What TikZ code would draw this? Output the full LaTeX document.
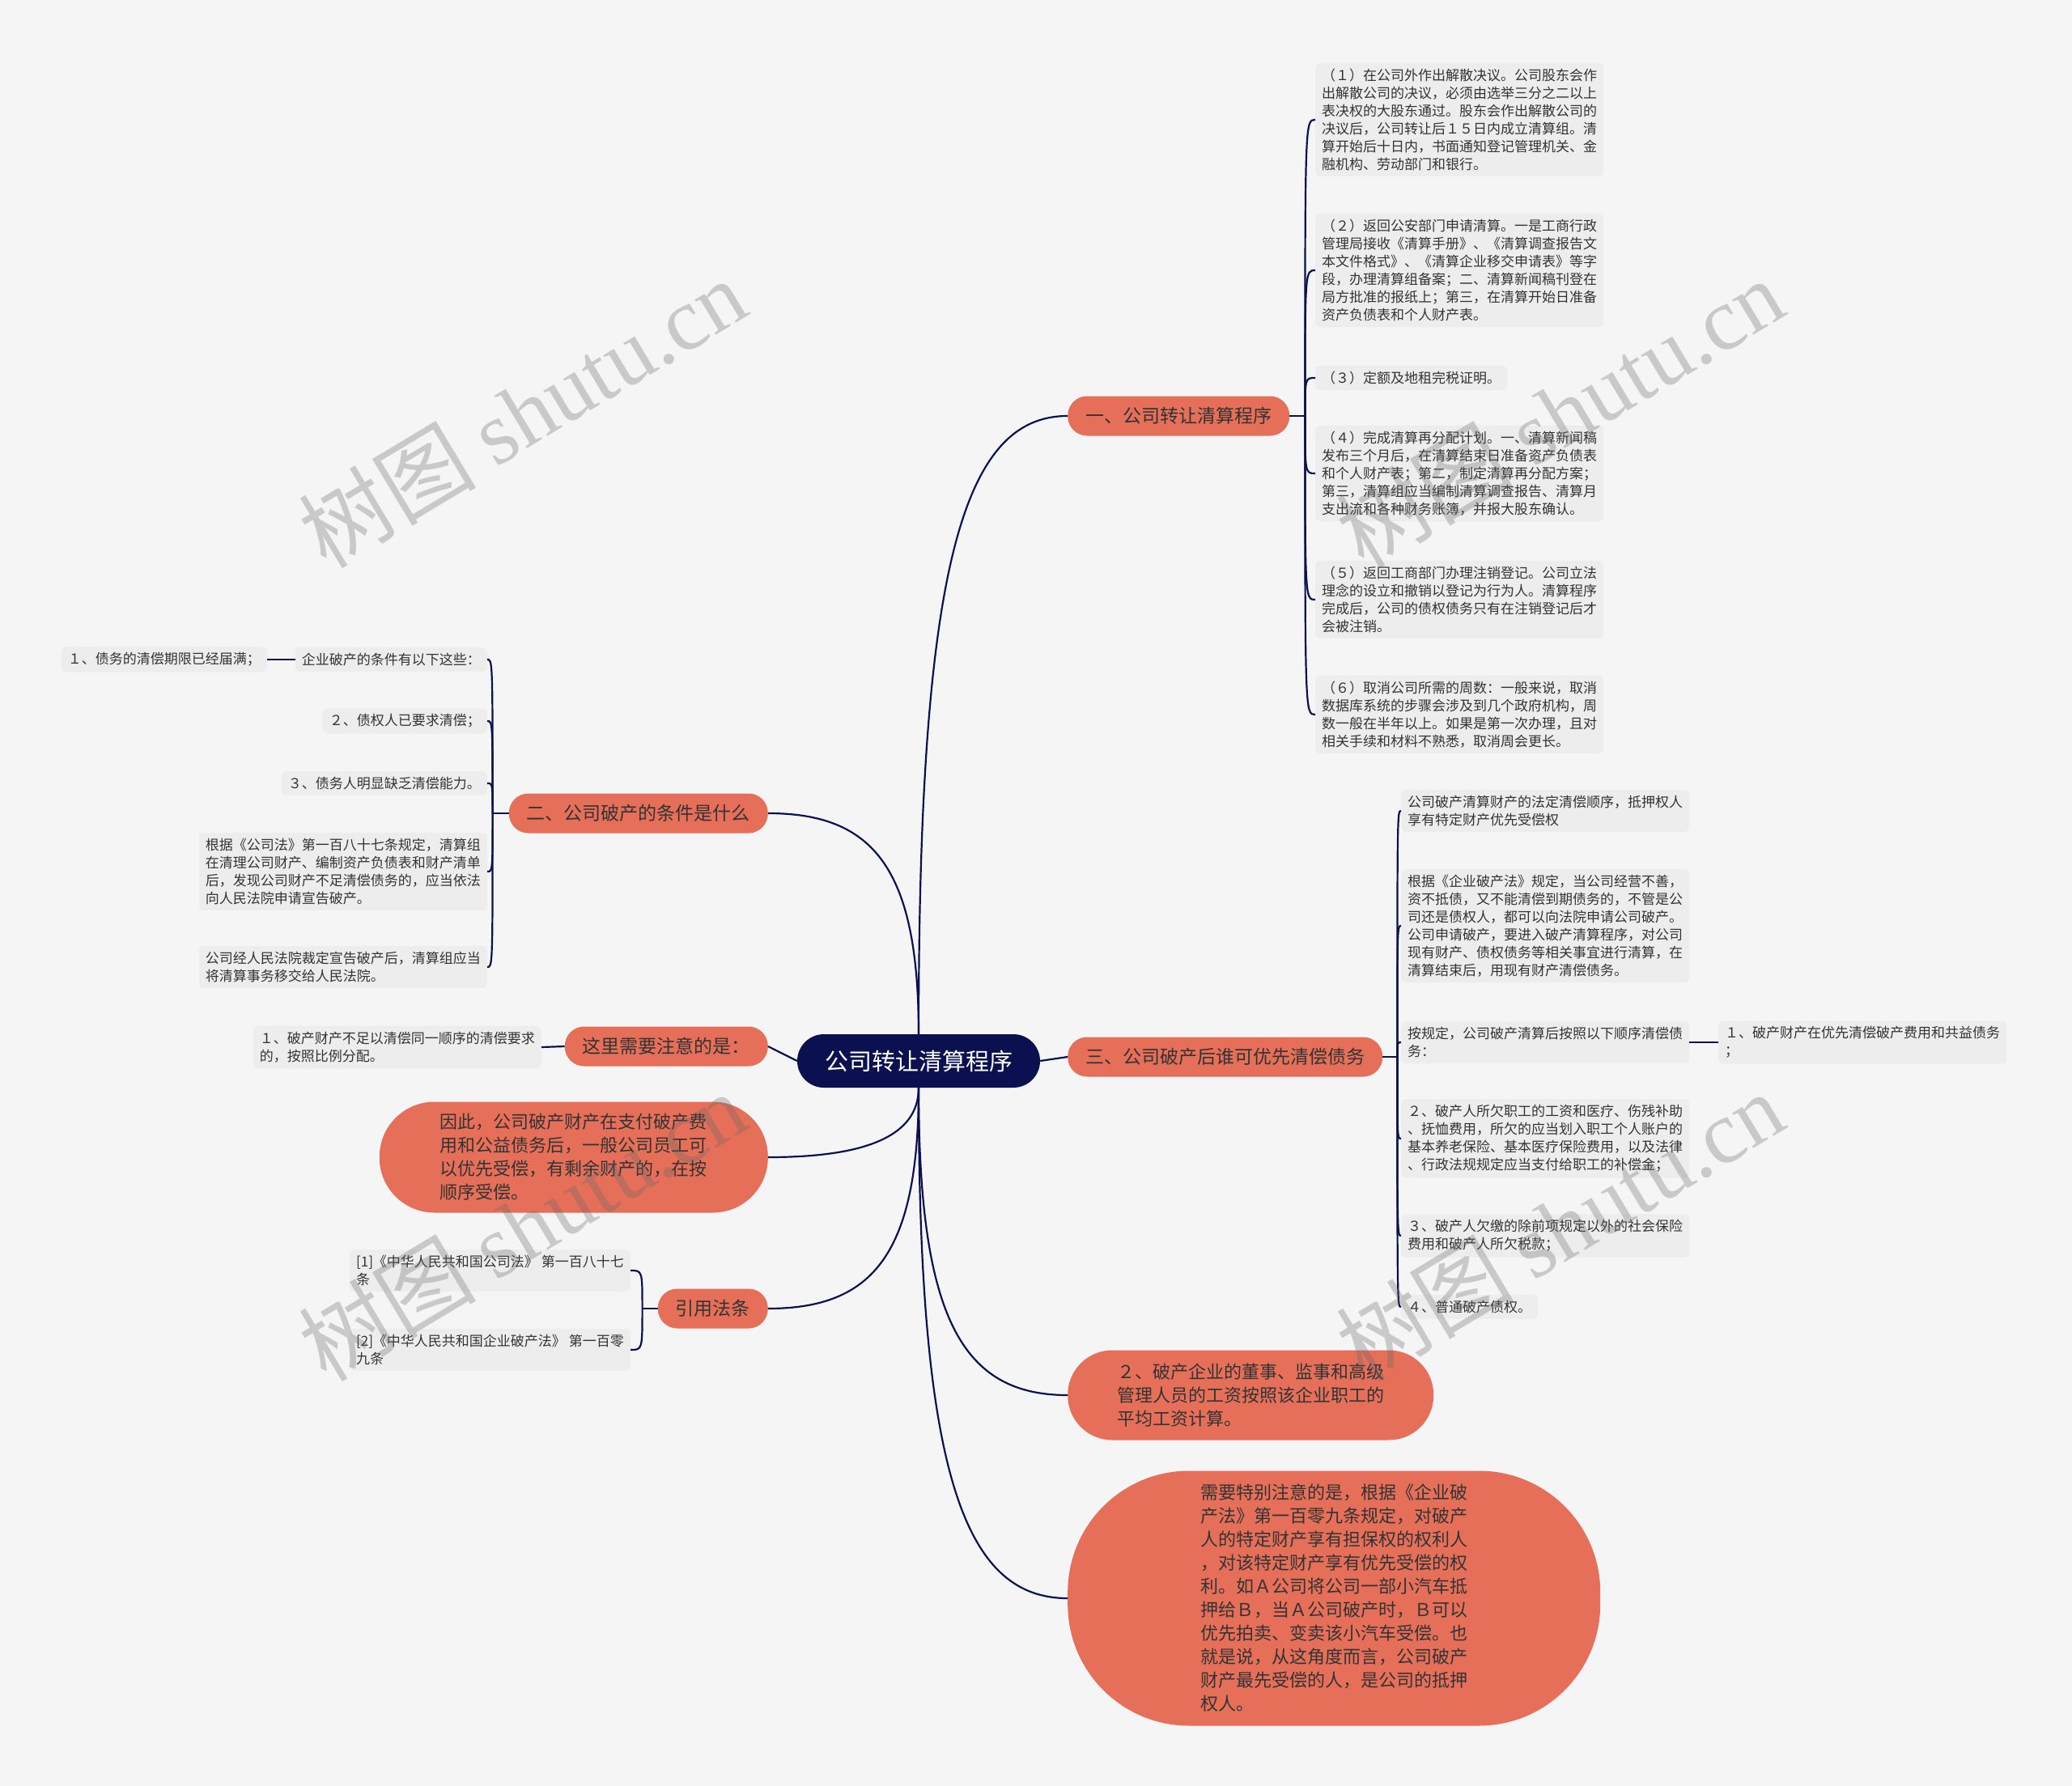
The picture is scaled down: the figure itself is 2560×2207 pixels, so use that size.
\documentclass[tikz,border=0pt]{standalone}
\usepackage{fontspec}
\setmainfont{Noto Sans CJK SC}
\newfontfamily\wmlatin{Liberation Serif}
\usetikzlibrary{positioning}
\definecolor{mapnavy}{HTML}{0B1150}
\definecolor{maporange}{HTML}{E56F59}
\definecolor{leafbg}{HTML}{EDEDED}
\definecolor{pagebg}{HTML}{F5F5F5}
\definecolor{ink}{HTML}{333333}

\begin{document}
\begin{tikzpicture}[x=1pt,y=-1pt,
  link/.style={mapnavy,line width=2.2pt},
  root/.style={fill=mapnavy,text=white,rounded corners=33pt,minimum width=300pt,minimum height=66pt,font=\fontsize{29}{34}\selectfont},
  branch/.style={fill=maporange,text=ink,rounded corners=24pt,minimum height=49pt,inner xsep=22pt,font=\fontsize{23}{28}\selectfont},
  bigpill/.style={fill=maporange,text=ink,align=left,font=\fontsize{22}{29}\selectfont},
  leaf/.style={fill=leafbg,text=ink,rounded corners=6pt,align=left,inner xsep=8pt,inner ysep=7pt,font=\fontsize{17}{22}\selectfont},
  wmark/.style={rotate=31,text=black!60,text opacity=0.3,font=\fontsize{110}{120}\selectfont}]
\fill[pagebg] (0,0) rectangle (2560,2207);

% centre and main branches
\node[root] (root) at (1135,1311) {公司转让清算程序};
\node[branch,anchor=west] (b1) at (1319,514) {一、公司转让清算程序};
\node[branch,anchor=west] (b3) at (1319,1306) {三、公司破产后谁可优先清偿债务};
\node[bigpill,anchor=west,minimum width=452pt,minimum height=111pt,rounded corners=55pt] (b5) at (1319,1724)
  {２、破产企业的董事、监事和高级\\管理人员的工资按照该企业职工的\\平均工资计算。};
\node[bigpill,anchor=west,minimum width=658pt,minimum height=315pt,rounded corners=150pt] (b6) at (1319,1975)
  {需要特别注意的是，根据《企业破\\产法》第一百零九条规定，对破产\\人的特定财产享有担保权的权利人\\，对该特定财产享有优先受偿的权\\利。如Ａ公司将公司一部小汽车抵\\押给Ｂ，当Ａ公司破产时，Ｂ可以\\优先拍卖、变卖该小汽车受偿。也\\就是说，从这角度而言，公司破产\\财产最先受偿的人，是公司的抵押\\权人。};
\node[branch,anchor=east] (b2) at (949,1005) {二、公司破产的条件是什么};
\node[branch,anchor=east] (b4) at (949,1293) {这里需要注意的是：};
\node[bigpill,anchor=east,minimum width=480pt,minimum height=137pt,rounded corners=68pt] (b7) at (949,1430)
  {因此，公司破产财产在支付破产费\\用和公益债务后，一般公司员工可\\以优先受偿，有剩余财产的，在按\\顺序受偿。};
\node[branch,anchor=east] (b8) at (949,1617) {引用法条};

% leaves of branch one
\node[leaf,anchor=west] (l1) at (1625,148) {（１）在公司外作出解散决议。公司股东会作\\出解散公司的决议，必须由选举三分之二以上\\表决权的大股东通过。股东会作出解散公司的\\决议后，公司转让后１５日内成立清算组。清\\算开始后十日内，书面通知登记管理机关、金\\融机构、劳动部门和银行。};
\node[leaf,anchor=west] (l2) at (1625,334) {（２）返回公安部门申请清算。一是工商行政\\管理局接收《清算手册》、《清算调查报告文\\本文件格式》、《清算企业移交申请表》等字\\段，办理清算组备案；二、清算新闻稿刊登在\\局方批准的报纸上；第三，在清算开始日准备\\资产负债表和个人财产表。};
\node[leaf,anchor=west] (l3) at (1625,467) {（３）定额及地租完税证明。};
\node[leaf,anchor=west] (l4) at (1625,585) {（４）完成清算再分配计划。一、清算新闻稿\\发布三个月后，在清算结束日准备资产负债表\\和个人财产表；第二，制定清算再分配方案；\\第三，清算组应当编制清算调查报告、清算月\\支出流和各种财务账簿，并报大股东确认。};
\node[leaf,anchor=west] (l5) at (1625,741) {（５）返回工商部门办理注销登记。公司立法\\理念的设立和撤销以登记为行为人。清算程序\\完成后，公司的债权债务只有在注销登记后才\\会被注销。};
\node[leaf,anchor=west] (l6) at (1625,883) {（６）取消公司所需的周数：一般来说，取消\\数据库系统的步骤会涉及到几个政府机构，周\\数一般在半年以上。如果是第一次办理，且对\\相关手续和材料不熟悉，取消周会更长。};

% leaves of branch three
\node[leaf,anchor=west] (m1) at (1731,1002) {公司破产清算财产的法定清偿顺序，抵押权人\\享有特定财产优先受偿权};
\node[leaf,anchor=west] (m2) at (1731,1144) {根据《企业破产法》规定，当公司经营不善，\\资不抵债，又不能清偿到期债务的，不管是公\\司还是债权人，都可以向法院申请公司破产。\\公司申请破产，要进入破产清算程序，对公司\\现有财产、债权债务等相关事宜进行清算，在\\清算结束后，用现有财产清偿债务。};
\node[leaf,anchor=west] (m3) at (1731,1288) {按规定，公司破产清算后按照以下顺序清偿债\\务：};
\node[leaf,anchor=west] (m3c) at (2123,1288) {１、破产财产在优先清偿破产费用和共益债务\\；};
\node[leaf,anchor=west] (m4) at (1731,1407) {２、破产人所欠职工的工资和医疗、伤残补助\\、抚恤费用，所欠的应当划入职工个人账户的\\基本养老保险、基本医疗保险费用，以及法律\\、行政法规规定应当支付给职工的补偿金；};
\node[leaf,anchor=west] (m5) at (1731,1527) {３、破产人欠缴的除前项规定以外的社会保险\\费用和破产人所欠税款；};
\node[leaf,anchor=west] (m6) at (1731,1615) {４、普通破产债权。};

% leaves on the left
\node[leaf,anchor=east] (n1) at (602,815) {企业破产的条件有以下这些：};
\node[leaf,anchor=east] (n1c) at (330,815) {１、债务的清偿期限已经届满；};
\node[leaf,anchor=east] (n2) at (602,891) {２、债权人已要求清偿；};
\node[leaf,anchor=east] (n3) at (602,968) {３、债务人明显缺乏清偿能力。};
\node[leaf,anchor=east] (n4) at (602,1077) {根据《公司法》第一百八十七条规定，清算组\\在清理公司财产、编制资产负债表和财产清单\\后，发现公司财产不足清偿债务的，应当依法\\向人民法院申请宣告破产。};
\node[leaf,anchor=east] (n5) at (602,1195) {公司经人民法院裁定宣告破产后，清算组应当\\将清算事务移交给人民法院。};
\node[leaf,anchor=east] (p1) at (669,1294) {１、破产财产不足以清偿同一顺序的清偿要求\\的，按照比例分配。};
\node[leaf,anchor=east] (r1) at (779,1570) {[1]《中华人民共和国公司法》 第一百八十七\\条};
\node[leaf,anchor=east] (r2) at (779,1668) {[2]《中华人民共和国企业破产法》 第一百零\\九条};

% connectors from the centre
\draw[link] (root.north) .. controls +(0,-575) and +(-130,0) .. (b1.west);
\draw[link] (root.east) -- (b3.west);
\draw[link] (root.south) .. controls +(0,285) and +(-130,0) .. (b5.west);
\draw[link] (root.south) .. controls +(0,470) and +(-130,0) .. (b6.west);
\draw[link] (root.north) .. controls +(0,-205) and +(130,0) .. (b2.east);
\draw[link] (root.west) -- (b4.east);
\draw[link] (root.south) .. controls +(0,60) and +(120,0) .. (b7.east);
\draw[link] (root.south) .. controls +(0,205) and +(130,0) .. (b8.east);

% brackets to the leaves
\coordinate (j1) at ([xshift=19pt]b1.east);
\coordinate (j3) at ([xshift=18pt]b3.east);
\coordinate (j2) at ([xshift=-20pt]b2.west);
\coordinate (j8) at ([xshift=-19pt]b8.west);
\draw[link] (b1.east) -- (j1); \draw[link] (b3.east) -- (j3);
\draw[link] (b2.west) -- (j2); \draw[link] (b8.west) -- (j8);
\foreach \n in {l1,l2,l3,l4,l5,l6} \draw[link] (j1) .. controls (j1|-\n.west) .. (\n.west);
\foreach \n in {m1,m2,m3,m4,m5,m6} \draw[link] (j3) .. controls (j3|-\n.west) .. (\n.west);
\foreach \n in {n1,n2,n3,n4,n5} \draw[link] (j2) .. controls (j2|-\n.east) .. (\n.east);
\foreach \n in {r1,r2} \draw[link] (j8) .. controls (j8|-\n.east) .. (\n.east);
\draw[link] (m3.east) -- (m3c.west);
\draw[link] (n1.west) -- (n1c.east);
\draw[link] (b4.west) -- (p1.east);

% watermark
\node[wmark] (wm1) at (645,510) {树图 {\wmlatin shutu.cn}};
\node[wmark] (wm2) at (1927,510) {树图 {\wmlatin shutu.cn}};
\node[wmark] (wm3) at (645,1515) {树图 {\wmlatin shutu.cn}};
\node[wmark] (wm4) at (1927,1515) {树图 {\wmlatin shutu.cn}};
\end{tikzpicture}
\end{document}
